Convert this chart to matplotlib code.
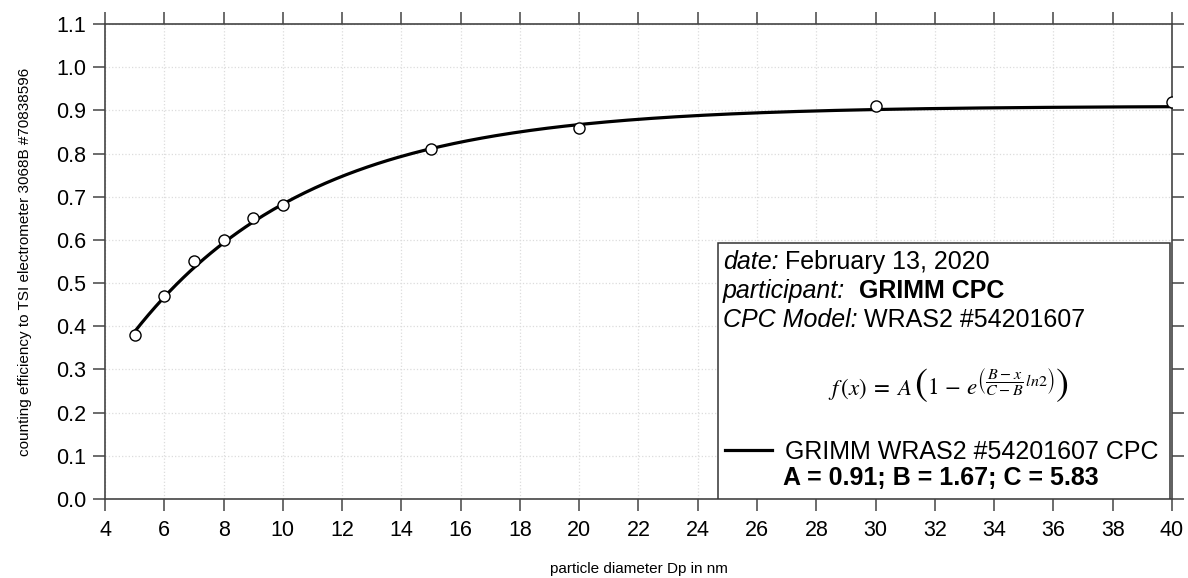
import matplotlib.pyplot as plt
from matplotlib.patches import Rectangle
import numpy as np

# measured counting efficiency
diameter = [5, 6, 7, 8, 9, 10, 15, 20, 30, 40]
efficiency = [0.38, 0.47, 0.55, 0.60, 0.65, 0.68, 0.81, 0.86, 0.91, 0.92]

# fit parameters shown in the chart
A = 0.91
B = 1.67
C = 5.83

x_ticks = list(range(4, 41, 2))
y_ticks = [round(0.1 * i, 1) for i in range(12)]

plt.rcParams['font.family'] = ['Liberation Sans', 'DejaVu Sans']
plt.rcParams['mathtext.fontset'] = 'stix'

fig = plt.figure(figsize=(11.88, 5.78), dpi=100)
ax = fig.add_axes([0.0884, 0.1367, 0.8981, 0.8218])

# fit curve f(x) = A(1 - exp((B-x)/(C-B) ln2))
xf = np.linspace(diameter[0], diameter[-1], 300)
yf = A * (1 - np.exp((B - xf) / (C - B) * np.log(2)))
ax.plot(xf, yf, color='black', lw=2.3, zorder=3, label='GRIMM WRAS2 #54201607 CPC')
ax.plot(diameter, efficiency, 'o', ms=8, mfc='white', mec='black', mew=1.0, zorder=4)

ax.set_xlim(4, 40)
ax.set_ylim(0, 1.1)
ax.set_xticks(x_ticks)
ax.set_yticks(y_ticks)
ax.set_yticklabels([f"{v:.1f}" for v in y_ticks])
ax.grid(True, color='#dcdcdc', ls=':', lw=0.9)
ax.set_axisbelow(True)
ax.tick_params(axis='both', direction='out', length=8.5, width=1.1, color='#444444',
               labelsize=15.5, top=True, right=True)
ax.tick_params(axis='x', pad=6.5)
ax.tick_params(axis='y', pad=5)
for s in ax.spines.values():
    s.set_color('#444444')
    s.set_linewidth(1.2)

ax.set_xlabel('particle diameter Dp in nm', fontsize=11, labelpad=15)
ax.set_ylabel('counting efficiency to TSI electrometer 3068B #70838596', fontsize=11, labelpad=17)

# info box
box = Rectangle((0.5745, 0.0), 0.4235, 0.539, transform=ax.transAxes, facecolor='white',
                edgecolor='#333333', lw=1.1, zorder=5)
ax.add_patch(box)

fs = 18
t1 = ax.text(0.579, 0.499, 'date:', style='italic', fontsize=fs, transform=ax.transAxes,
             va='center', zorder=6)
ax.annotate(' February 13, 2020', xy=(1, 0), xycoords=t1, va='bottom', fontsize=fs, zorder=6)
t2 = ax.text(0.579, 0.438, 'participant:', style='italic', fontsize=fs, transform=ax.transAxes,
             va='center', zorder=6)
ax.annotate('  GRIMM CPC', xy=(1, 0), xycoords=t2, va='bottom', fontsize=fs,
            fontweight='bold', zorder=6)
t3 = ax.text(0.579, 0.377, 'CPC Model:', style='italic', fontsize=fs, transform=ax.transAxes,
             va='center', zorder=6)
ax.annotate(' WRAS2 #54201607', xy=(1, 0), xycoords=t3, va='bottom', fontsize=fs, zorder=6)

# formula, built from pieces so the outer parentheses can be large
base = 0.219
f1 = ax.text(0.6776, base, r'$f\,(x)\;=\;A$', fontsize=16.5, transform=ax.transAxes,
             va='baseline', zorder=6)
f2 = ax.annotate(r'$($', xy=(1, base), xycoords=(f1, ax.transAxes), fontsize=28,
                 va='baseline', xytext=(1, 0), textcoords='offset points', zorder=6)
f3 = ax.annotate(r'$1\,-\,e^{\left(\dfrac{B-x}{C-B}\,ln2\right)}$', xy=(1, base),
                 xycoords=(f2, ax.transAxes), fontsize=16.5, va='baseline',
                 xytext=(0, 0), textcoords='offset points', zorder=6)
ax.annotate(r'$)$', xy=(1, base), xycoords=(f3, ax.transAxes), fontsize=28,
            va='baseline', xytext=(0, 0), textcoords='offset points', zorder=6)

leg = ax.legend(loc='center left', bbox_to_anchor=(0.581, 0.099), frameon=False,
                fontsize=fs, handlelength=1.9, handletextpad=0.5, borderpad=0,
                borderaxespad=0)
leg.set_zorder(6)
ax.text(0.635, 0.044, f'A = {A:.2f}; B = {B:.2f}; C = {C:.2f}', fontsize=fs,
        fontweight='bold', transform=ax.transAxes, va='center', zorder=6)

fig.savefig('out.png', dpi=100)
